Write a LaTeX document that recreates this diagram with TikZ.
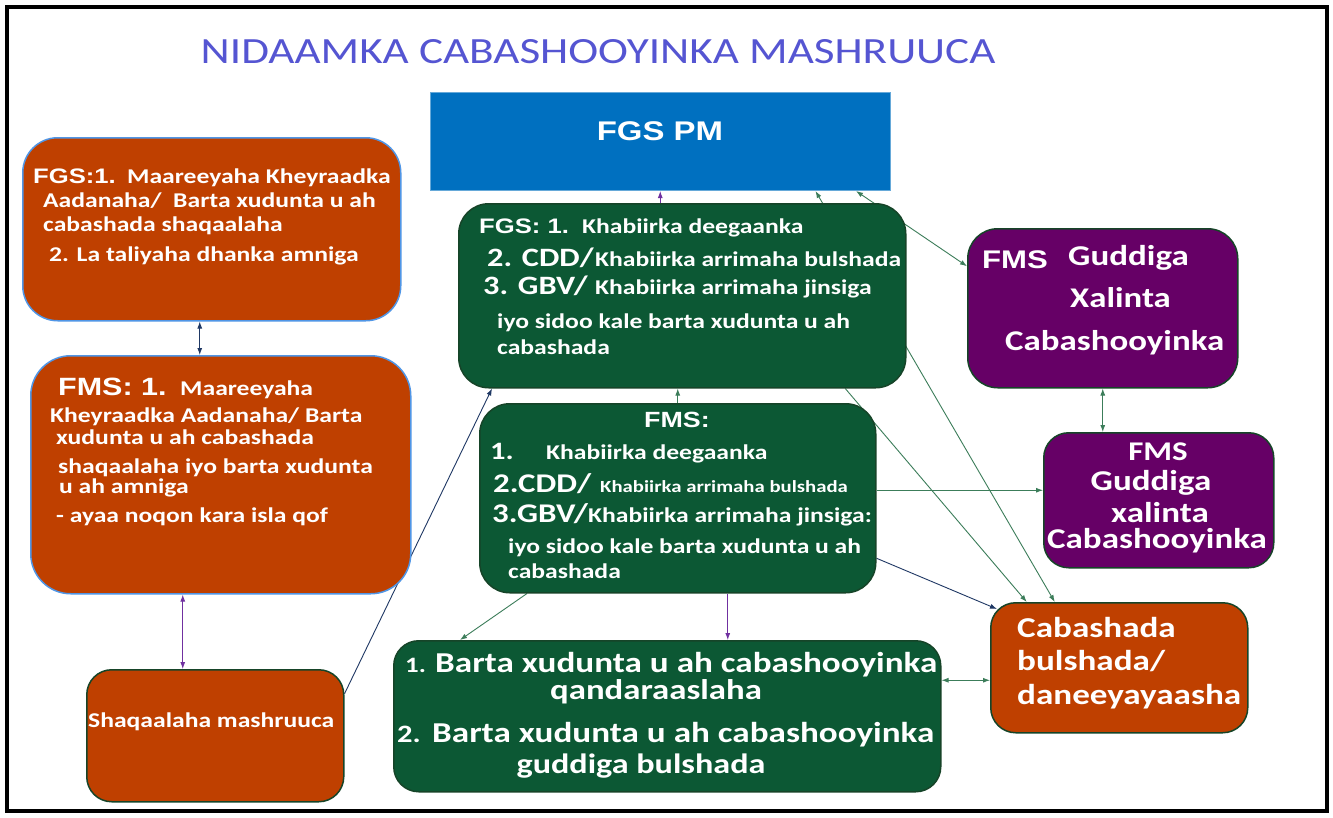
\documentclass[tikz,border=0pt]{standalone}
\usepackage{fontspec}
\setmainfont{Carlito}[FakeStretch=1.22]
\newfontfamily\hb{Liberation Sans}[FakeStretch=1.22]
\usetikzlibrary{arrows.meta,backgrounds}
\definecolor{org}{RGB}{191,64,0}
\definecolor{grn}{RGB}{12,88,52}
\definecolor{grnbd}{RGB}{22,68,40}
\definecolor{pur}{RGB}{102,0,102}
\definecolor{pmblue}{RGB}{0,112,192}
\definecolor{ttl}{RGB}{85,85,210}
\definecolor{bluebd}{RGB}{80,150,230}
\definecolor{lgrn}{RGB}{60,125,90}
\definecolor{navy}{RGB}{31,56,100}
\definecolor{violet}{RGB}{112,48,160}
\newcommand\bsz[1]{\bfseries\fontsize{#1}{#1}\selectfont}
\newcommand\hsz[1]{\hb\bfseries\fontsize{#1}{#1}\selectfont}
\begin{document}
\begin{tikzpicture}[x=1pt,y=-1pt,
  rbox/.style={draw=grnbd, line width=1.5pt, inner sep=0pt, anchor=north west},
  tl/.style={anchor=base west, inner sep=0pt, text=white},
  tc/.style={anchor=base, inner sep=0pt, text=white},
  conn/.style={line width=0.9pt, -{Latex[length=7pt,width=5pt]}},
  conn2/.style={line width=0.9pt, {Latex[length=7pt,width=5pt]}-{Latex[length=7pt,width=5pt]}}]
\useasboundingbox (0,0) rectangle (1333,817);

% title
\node[anchor=base, inner sep=0pt, text=ttl, font=\fontsize{37}{37}\selectfont] (T) at (598,63) {NIDAAMKA CABASHOOYINKA MASHRUUCA};

% FGS PM
\node[rbox, fill=pmblue, draw=pmblue!60!white, line width=1pt, minimum width=460pt, minimum height=98pt] (PM) at (430,92) {};
\node[anchor=center, inner sep=0pt, text=white, font=\hsz{27}] (PMt) at (660,131) {FGS PM};

% A
\node[rbox, fill=org, draw=bluebd, rounded corners=35pt, minimum width=378pt, minimum height=183pt] (A) at (22,137) {};
\node[tl, font=\hsz{21}] (A1a) at (33,183) {FGS:1.};
\node[tl, font=\bsz{21}] (A1b) at (127,183) {Maareeyaha Kheyraadka};
\node[tl, font=\bsz{21}] (A2) at (43,207) {Aadanaha/\ \ Barta xudunta u ah};
\node[tl, font=\bsz{21}] (A3) at (43,231) {cabashada shaqaalaha};
\node[tl, font=\bsz{21}] (A4) at (49,261) {2. La taliyaha dhanka amniga};

% B
\node[rbox, fill=org, draw=bluebd, rounded corners=40pt, minimum width=380pt, minimum height=238pt] (B) at (30,355) {};
\node[tl, font=\hsz{25}] (B1a) at (58,395) {FMS: 1.};
\node[tl, font=\bsz{21}] (B1b) at (180,395) {Maareeyaha};
\node[tl, font=\bsz{21}] (B2) at (50,422) {Kheyraadka Aadanaha/ Barta};
\node[tl, font=\bsz{21}] (B3) at (56,444) {xudunta u ah cabashada};
\node[tl, font=\bsz{21}] (B4) at (58,473) {shaqaalaha iyo barta xudunta};
\node[tl, font=\bsz{21}] (B5) at (59,493) {u ah amniga};
\node[tl, font=\bsz{21}] (B6) at (56,522) {- ayaa noqon kara isla qof};

% C
\node[rbox, fill=org, rounded corners=25pt, minimum width=257pt, minimum height=132pt] (C) at (86,669) {};
\node[tl, font=\bsz{21}] (C1) at (88,727) {Shaqaalaha mashruuca};

% D
\node[rbox, fill=grn, rounded corners=30pt, minimum width=447pt, minimum height=184pt] (D) at (458,203) {};
\node[tl, font=\hsz{21}] (D1a) at (479,233) {FGS: 1.};
\node[tl, font=\bsz{21}] (D1b) at (582,233) {Khabiirka deegaanka};
\node[tl, font=\bsz{26.5}] (D2a) at (487,266) {2. CDD/};
\node[tl, font=\bsz{21}] (D2b) at (595,266) {Khabiirka arrimaha bulshada};
\node[tl, font=\bsz{26.5}] (D3a) at (483,294) {3. GBV/};
\node[tl, font=\bsz{21}] (D3b) at (595,294) {Khabiirka arrimaha jinsiga};
\node[tl, font=\bsz{21}] (D4) at (497,328) {iyo sidoo kale barta xudunta u ah};
\node[tl, font=\bsz{21}] (D5) at (497,354) {cabashada};

% E
\node[rbox, fill=grn, rounded corners=30pt, minimum width=396pt, minimum height=189pt] (E) at (479,403) {};
\node[tc, font=\hsz{22}] (E0) at (677,427) {FMS:};
\node[tl, font=\bsz{25}] (E1a) at (490,459) {1.};
\node[tl, font=\bsz{21}] (E1b) at (546,459) {Khabiirka deegaanka};
\node[tl, font=\bsz{27}] (E2a) at (493,492) {2.CDD/};
\node[tl, font=\bsz{17}] (E2b) at (600,492) {Khabiirka arrimaha bulshada};
\node[tl, font=\bsz{27}] (E3a) at (492,522) {3.GBV/};
\node[tl, font=\bsz{21}] (E3b) at (588,522) {Khabiirka arrimaha jinsiga:};
\node[tl, font=\bsz{21}] (E4) at (508,553) {iyo sidoo kale barta xudunta u ah};
\node[tl, font=\bsz{21}] (E5) at (508,578) {cabashada};

% F
\node[rbox, fill=grn, rounded corners=25pt, minimum width=547pt, minimum height=151pt] (F) at (393,640) {};
\node[tl, font=\bsz{22}] (F1a) at (405,672) {1.};
\node[tl, font=\bsz{28.8}] (F1b) at (435,672) {Barta xudunta u ah cabashooyinka};
\node[tc, font=\bsz{28.5}] (F2) at (656,699) {qandaraaslaha};
\node[tl, font=\bsz{25}] (F3a) at (397,742) {2.};
\node[tl, font=\bsz{28.8}] (F3b) at (432,742) {Barta xudunta u ah cabashooyinka};
\node[tc, font=\bsz{28}] (F4) at (641,773) {guddiga bulshada};

% G
\node[rbox, fill=pur, rounded corners=30pt, minimum width=270pt, minimum height=159pt] (G) at (967,228) {};
\node[tl, font=\hsz{25.5}] (G0) at (982,268) {FMS};
\node[tl, font=\bsz{28.7}] (G1) at (1068,265) {Guddiga};
\node[tl, font=\bsz{28.5}] (G2) at (1070,307) {Xalinta};
\node[tl, font=\bsz{28.6}] (G3) at (1005,350) {Cabashooyinka};

% H
\node[rbox, fill=pur, rounded corners=25pt, minimum width=230pt, minimum height=135pt] (H) at (1043,432) {};
\node[tc, font=\bsz{27}] (H0) at (1158,460) {FMS};
\node[tc, font=\bsz{28.7}] (H1) at (1151,490) {Guddiga};
\node[tc, font=\bsz{28.7}] (H2) at (1160,522) {xalinta};
\node[tc, font=\bsz{28.7}] (H3) at (1157,548) {Cabashooyinka};

% I
\node[rbox, fill=org, rounded corners=25pt, minimum width=257pt, minimum height=130pt] (I) at (990,602) {};
\node[tl, font=\bsz{28.8}] (I1) at (1017,637) {Cabashada};
\node[tl, font=\bsz{28.8}] (I2) at (1017,670) {bulshada/};
\node[tl, font=\bsz{28.8}] (I3) at (1017,704) {daneeyayaasha};

\begin{scope}[on background layer]
\fill[white] (0,0) rectangle (1333,817);
\draw[line width=4pt] (7,7) rectangle (1327,811);
\draw[conn, violet] ([xshift=-22pt]D.north) -- ([xshift=-22pt]D.north |- PM.south);
\draw[conn2, lgrn] ([xshift=155pt]PM.south) -- ([xshift=-64.5pt]I.north);
\draw[conn2, lgrn] ([xshift=-35pt]PM.south east) -- ([yshift=42pt]G.west);
\draw[conn, lgrn] ([xshift=163pt]D.south) -- ([xshift=-92.5pt]I.north);
\draw[conn, lgrn] (E.north) -- (E.north |- D.south);
\draw[conn, navy] ([yshift=42pt]C.east) -- ([xshift=34pt]D.south west);
\draw[conn, lgrn] ([yshift=8pt]E.east) -- ([yshift=8pt]E.east -| H.west);
\draw[conn, navy] ([yshift=-60pt]E.east) -- ([xshift=7pt,yshift=-7pt]I.north west);
\draw[conn, lgrn] ([xshift=48pt]E.south west) -- ([xshift=67pt]F.north west);
\draw[conn, violet] ([xshift=50pt]E.south) -- ([xshift=50pt]E.south |- F.north);
\draw[conn2, lgrn] ([yshift=36pt]F.east) -- ([yshift=36pt]F.east -| I.west);
\draw[conn2, lgrn] (G.south) -- (G.south |- H.north);
\draw[conn2, navy] ([xshift=-12pt]A.south) -- ([xshift=-12pt]A.south |- B.north);
\draw[conn2, violet] ([xshift=-38pt]B.south) -- ([xshift=-38pt]B.south |- C.north);
\end{scope}
\end{tikzpicture}
\end{document}
